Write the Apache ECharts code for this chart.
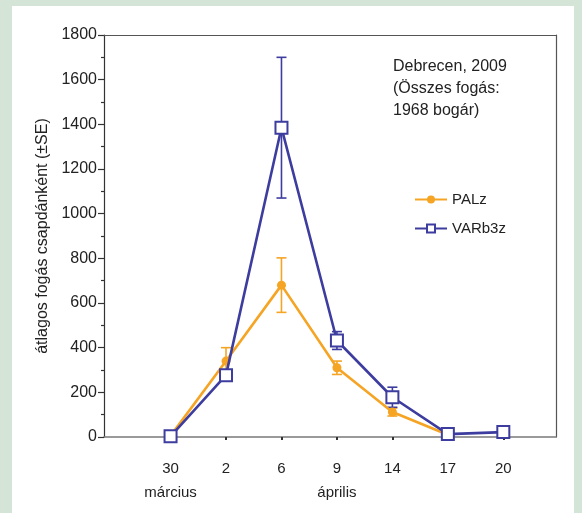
<!DOCTYPE html>
<html>
<head>
<meta charset="utf-8">
<script src="https://cdn.jsdelivr.net/npm/echarts@6/dist/echarts.min.js"></script>
<style>
  html, body { margin: 0; padding: 0; background: #d4e4d6; }
  #main { width: 582px; height: 513px; }
</style>
</head>
<body>
<div id="main"></div>
<script>
// dates (day of month) and month labels under the axis
var days = ['30', '2', '6', '9', '14', '17', '20'];
var months = ['március', '', '', 'április', '', '', ''];

// mean catch per trap and its SE
var palz = [5, 340, 680, 310, 112, 10, null];
var palzSE = [0, 60, 122, 30, 18, 0, 0];
var varb = [3, 277, 1385, 432, 178, 13, 22];
var varbSE = [0, 15, 315, 40, 45, 0, 0];

var orange = '#f5a424';
var blue = '#3d3c9f';
var font = 'Liberation Sans, Arial, sans-serif';

function pts(arr) {
    return arr.map(function (v, i) { return [i, v]; });
}
function errData(arr, se) {
    var out = [];
    arr.forEach(function (v, i) {
        if (v != null && se[i] > 0) out.push([i, v - se[i], v + se[i]]);
    });
    return out;
}
function errSeries(arr, se, color) {
    return {
        type: 'custom',
        data: errData(arr, se),
        z: 1,
        renderItem: function (params, api) {
            var x = api.value(0);
            var lo = api.coord([x, api.value(1)]);
            var hi = api.coord([x, api.value(2)]);
            var w = 5;
            var st = { stroke: color, lineWidth: 1.6 };
            return {
                type: 'group',
                children: [
                    { type: 'line', shape: { x1: lo[0], y1: lo[1], x2: hi[0], y2: hi[1] }, style: st },
                    { type: 'line', shape: { x1: lo[0] - w, y1: lo[1], x2: lo[0] + w, y2: lo[1] }, style: st },
                    { type: 'line', shape: { x1: hi[0] - w, y1: hi[1], x2: hi[0] + w, y2: hi[1] }, style: st }
                ]
            };
        }
    };
}

var chart = echarts.init(document.getElementById('main'));

var option = {
    backgroundColor: '#d4e4d6',
    animation: false,
    graphic: [{
        type: 'rect', z: -10, silent: true,
        shape: { x: 12, y: 6, width: 562, height: 507 },
        style: { fill: '#ffffff' }
    }],
    title: {
        text: 'Debrecen, 2009\n(Összes fogás:\n1968 bogár)',
        left: 388, top: 51,
        textStyle: { fontFamily: font, fontSize: 16, fontWeight: 'normal', color: '#222', lineHeight: 22 }
    },
    legend: {
        orient: 'vertical',
        left: 409, top: 187,
        itemWidth: 32, itemHeight: 10, itemGap: 14,
        textStyle: { fontFamily: font, fontSize: 15, color: '#222' },
        data: ['PALz', 'VARb3z']
    },
    grid: { left: 104, right: 26, top: 35, bottom: 76 },
    xAxis: [{
        type: 'value',
        min: -1.2, max: 6.95,
        axisLine: { show: true, onZero: false, lineStyle: { color: '#7a7a7a', width: 1.6 } },
        axisTick: { show: true, customValues: [0, 1, 2, 3, 4, 5, 6], length: 3, lineStyle: { color: '#333', width: 2 } },
        axisLabel: {
            customValues: [0, 1, 2, 3, 4, 5, 6],
            margin: 20,
            fontFamily: font, fontSize: 15, color: '#222', lineHeight: 24,
            formatter: function (v) {
                var i = Math.round(v);
                return months[i] ? days[i] + '\n' + months[i] : days[i];
            }
        },
        splitLine: { show: false }
    }, {
        type: 'value', position: 'top',
        min: -1.2, max: 6.95,
        axisLine: { show: true, onZero: false, lineStyle: { color: '#555', width: 1.2 } },
        axisTick: { show: false }, axisLabel: { show: false }, splitLine: { show: false }
    }],
    yAxis: [{
        type: 'value',
        min: 0, max: 1800, interval: 200,
        name: 'átlagos fogás csapdánként (±SE)',
        nameLocation: 'middle', nameGap: 52, nameRotate: 90,
        nameTextStyle: { fontFamily: font, fontSize: 16, color: '#222' },
        axisLine: { show: true, onZero: false, lineStyle: { color: '#333', width: 1.2 } },
        axisTick: { show: true, length: 6, lineStyle: { color: '#333', width: 1.2 } },
        minorTick: { show: true, splitNumber: 2, length: 3, lineStyle: { color: '#333', width: 1.2 } },
        axisLabel: { fontFamily: font, fontSize: 16, color: '#222', margin: 7, formatter: function (v) { return String(v); } },
        splitLine: { show: false }
    }, {
        type: 'value', position: 'right',
        min: 0, max: 1800,
        axisLine: { show: true, onZero: false, lineStyle: { color: '#555', width: 1.2 } },
        axisTick: { show: false }, axisLabel: { show: false }, splitLine: { show: false }
    }],
    series: [
        errSeries(palz, palzSE, orange),
        {
            name: 'PALz', type: 'line', data: pts(palz), z: 2,
            symbol: 'circle', symbolSize: 9,
            lineStyle: { color: orange, width: 2.6 },
            itemStyle: { color: orange }
        },
        errSeries(varb, varbSE, blue),
        {
            name: 'VARb3z', type: 'line', data: pts(varb), z: 3,
            symbol: 'rect', symbolSize: 12,
            lineStyle: { color: blue, width: 2.6 },
            itemStyle: { color: '#ffffff', borderColor: blue, borderWidth: 2 }
        }
    ]
};

chart.setOption(option);
</script>
</body>
</html>
